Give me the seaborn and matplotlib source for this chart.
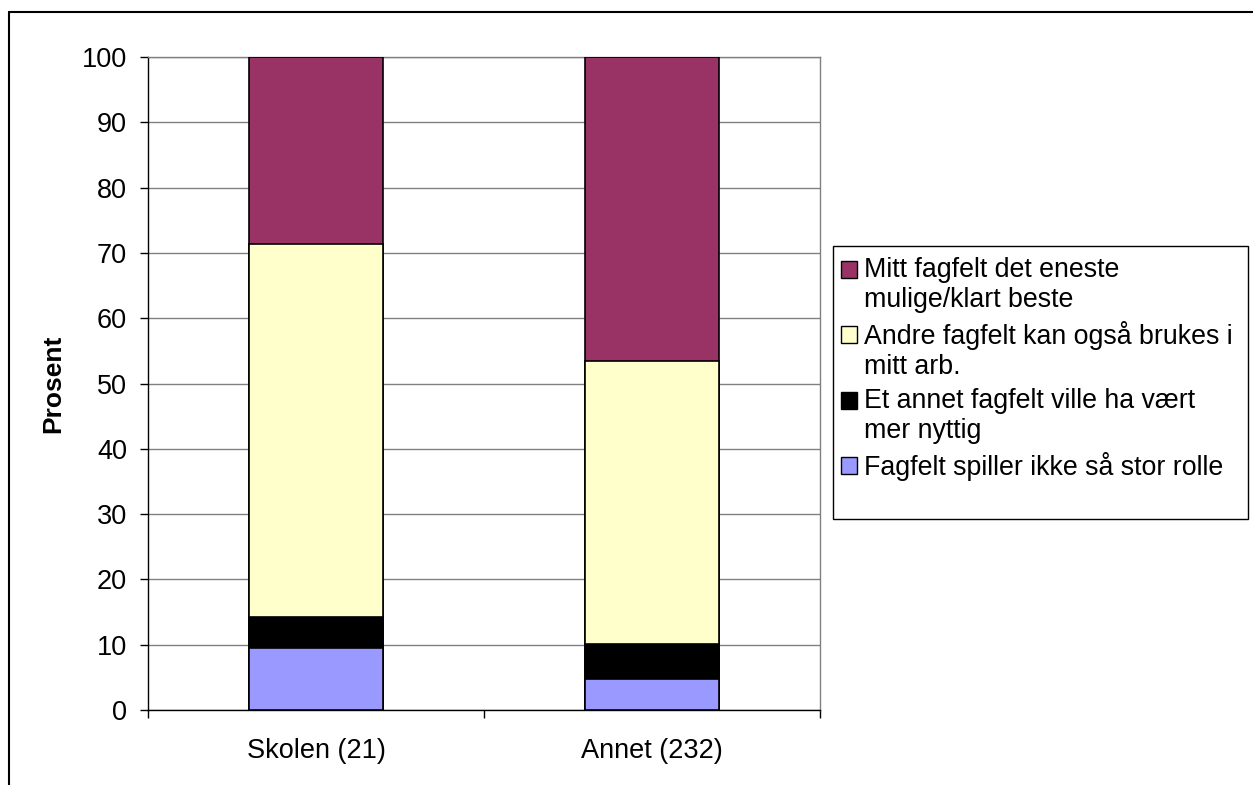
import matplotlib
matplotlib.use("Agg")
import matplotlib.pyplot as plt
from matplotlib.patches import Rectangle, Patch
from matplotlib.lines import Line2D
from matplotlib.legend_handler import HandlerPatch
import numpy as np
import pandas as pd
import seaborn as sns

sns.set_theme(style="white")
plt.rcParams["font.family"] = ["Liberation Sans", "DejaVu Sans"]
plt.rcParams["text.color"] = "black"
plt.rcParams["axes.labelcolor"] = "black"
plt.rcParams["xtick.color"] = "black"
plt.rcParams["ytick.color"] = "black"

categories = ["Skolen (21)", "Annet (232)"]
# stacked shares, bottom to top
fagfelt_spiller = [9.52, 4.7]
annet_fagfelt = [4.76, 5.4]
andre_fagfelt = [57.14, 43.3]
mitt_fagfelt = [28.57, 46.6]

series = [
    ("Fagfelt spiller ikke så stor rolle", fagfelt_spiller, "#9999FF"),
    ("Et annet fagfelt ville ha vært\nmer nyttig", annet_fagfelt, "#000000"),
    ("Andre fagfelt kan også brukes i\nmitt arb.", andre_fagfelt, "#FFFFCC"),
    ("Mitt fagfelt det eneste\nmulige/klart beste", mitt_fagfelt, "#993366"),
]

fig = plt.figure(figsize=(12.53, 7.85), dpi=100)
ax = fig.add_axes([148 / 1253, 75 / 785, 672 / 1253, 653 / 785])

# cumulative totals drawn from top layer down so lower layers overdraw
cum = np.cumsum([s[1] for s in series], axis=0)
for i in range(len(series) - 1, -1, -1):
    df = pd.DataFrame({"cat": categories, "val": cum[i]})
    sns.barplot(data=df, x="cat", y="val", color=series[i][2], width=0.4,
                edgecolor="black", linewidth=1.2, saturation=1, ax=ax, zorder=3)

ax.set_xlim(-0.5, 1.5)
ax.set_ylim(0, 100)
ax.set_yticks(np.arange(0, 101, 10))
ax.yaxis.grid(True, color="#808080", linewidth=1)
ax.set_axisbelow(True)
ax.set_xlabel("")
ax.set_ylabel("Prosent", fontsize=19, fontweight="bold", labelpad=12)

ax.tick_params(axis="x", which="major", length=0, labelsize=19.5, pad=20)
ax.set_xticks([-0.5, 0.5, 1.5], minor=True)
ax.tick_params(axis="x", which="minor", length=6, width=1, direction="out", color="black", bottom=True)
ax.tick_params(axis="y", length=6, width=1, direction="out", color="black", labelsize=19.5, left=True, pad=9)

for side in ["left", "bottom"]:
    ax.spines[side].set_color("black")
    ax.spines[side].set_linewidth(1)
for side in ["top", "right"]:
    ax.spines[side].set_color("#808080")
    ax.spines[side].set_linewidth(1)

# outer chart frame (top and left edges visible)
fig.add_artist(Line2D([9 / 1253, 1.01], [1 - 12 / 785] * 2, color="black", linewidth=1.5,
                      transform=fig.transFigure))
fig.add_artist(Line2D([9 / 1253] * 2, [-0.01, 1 - 12 / 785], color="black", linewidth=1.5,
                      transform=fig.transFigure))

# legend box
fig.add_artist(Rectangle((833 / 1253, 1 - 519 / 785), 415 / 1253, 273 / 785,
                         transform=fig.transFigure, facecolor="white", edgecolor="black",
                         linewidth=1))


def first_line_box(legend, orig_handle, xdescent, ydescent, width, height, fontsize):
    # keep the square level with the first line of a two-line label
    return Rectangle((-xdescent, -ydescent + 0.6 * fontsize), width, height)


handles = [Patch(facecolor=c, edgecolor="black", linewidth=1) for _, _, c in reversed(series)]
labels = [n for n, _, _ in reversed(series)]
hmap = {h: HandlerPatch(patch_func=first_line_box) for h, l in zip(handles, labels) if "\n" in l}
fig.legend(handles, labels, loc="upper left", bbox_to_anchor=(822 / 1253, 1 - 238 / 785),
           frameon=False, fontsize=19.3, handlelength=0.6, handleheight=0.6,
           handletextpad=0.25, labelspacing=0.3, borderpad=0.2, handler_map=hmap)

fig.savefig("out.png", dpi=100, facecolor="white")
